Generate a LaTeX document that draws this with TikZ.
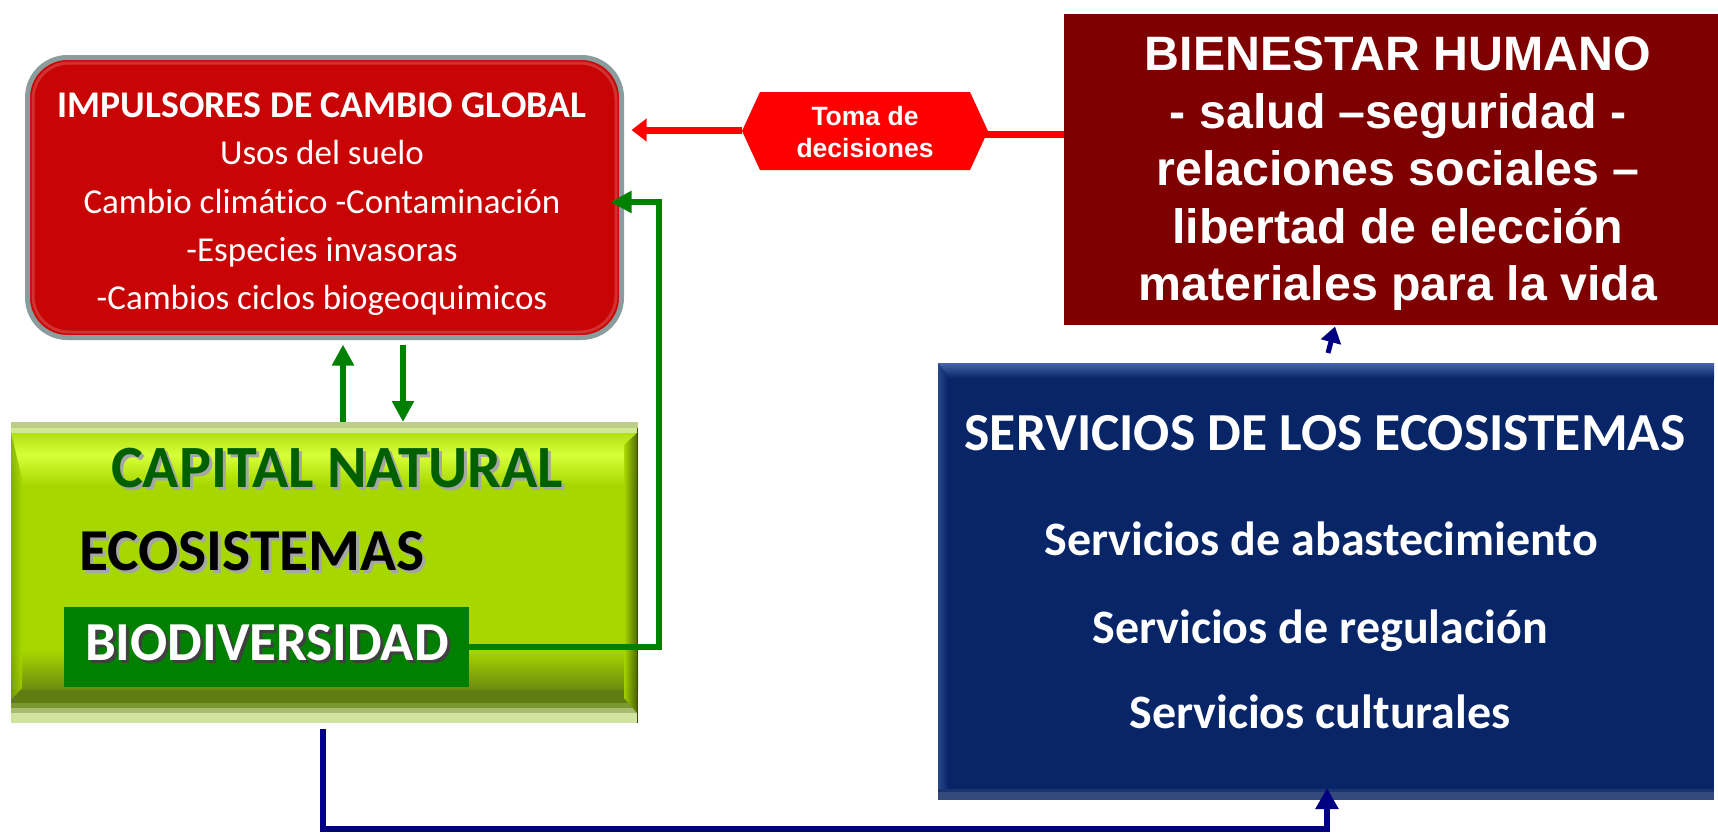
\documentclass[tikz,border=0pt]{standalone}
\usepackage{fontspec}
\setmainfont{Carlito}[Ligatures={NoCommon}]
\newfontfamily\arialf{Liberation Sans}
\usetikzlibrary{arrows.meta,calc}
\definecolor{impred}{HTML}{C80404}
\definecolor{imgray}{HTML}{8A9C9C}
\definecolor{bienred}{HTML}{7F0000}
\definecolor{navybox}{HTML}{082568}
\definecolor{arrnavy}{HTML}{000080}
\definecolor{arrgreen}{HTML}{008000}
\definecolor{lime}{HTML}{A6D800}
\definecolor{limehi}{HTML}{D8FF3A}
\definecolor{limetop}{HTML}{B0E010}
\definecolor{limedk}{HTML}{6A8A10}
\definecolor{limeleft}{HTML}{7AA400}
\definecolor{limeright}{HTML}{466000}
\definecolor{gA}{HTML}{BCCE88}
\definecolor{gB}{HTML}{D0E890}
\definecolor{gC}{HTML}{5E7C10}
\definecolor{gD}{HTML}{7C9830}
\definecolor{gE}{HTML}{A8BC70}
\definecolor{gF}{HTML}{D0E4A0}
\definecolor{gG}{HTML}{3A4A10}
\definecolor{capgreen}{HTML}{006000}
\definecolor{biogreen}{HTML}{007F00}
\definecolor{decred}{HTML}{FF0000}
\definecolor{arrred}{HTML}{FF0000}
\definecolor{bluehi}{HTML}{4664AA}
\definecolor{blueleft}{HTML}{28468C}
\definecolor{bA}{HTML}{1A3470}
\definecolor{bB}{HTML}{344A7C}
\newcommand\myfs[1]{\fontsize{#1}{#1}\selectfont}
\begin{document}
\begin{tikzpicture}[x=1pt,y=-1pt,
  txt/.style={inner sep=0pt,outer sep=0pt,text=white,anchor=base},
  garr/.style={draw=arrgreen,line width=6pt,-{Triangle[length=21pt,width=21pt]}},
  rline/.style={draw=arrred,line width=7pt},
  rarr/.style={rline,-{Triangle[length=15pt,width=22pt]}},
  narr/.style={draw=arrnavy,line width=6pt,-{Triangle[length=21pt,width=22pt]}},
  boxn/.style={inner sep=0pt,outer sep=0pt}]
\useasboundingbox (0,0) rectangle (1718,833);

% ---------- IMPULSORES box
\node[boxn,draw=imgray,line width=5pt,fill=impred,rounded corners=40pt,
      minimum width=594pt,minimum height=280pt] (imp) at (324.5,197.5) {};
\draw[white,opacity=0.18,line width=3pt,rounded corners=36pt] (33,63) rectangle (616,332);
\node[txt,font=\bfseries\myfs{37.7}] (imp1) at (322,117) {IMPULSORES DE CAMBIO GLOBAL};
\node[txt,font=\myfs{35}] (imp2) at (322,164) {Usos del suelo};
\node[txt,font=\myfs{35}] (imp3) at (322,213) {Cambio climático -Contaminación};
\node[txt,font=\myfs{35}] (imp4) at (322,261) {-Especies invasoras};
\node[txt,font=\myfs{35}] (imp5) at (322,309) {-Cambios ciclos biogeoquimicos};

% ---------- BIENESTAR box
\node[boxn,fill=bienred,minimum width=654pt,minimum height=311pt] (bien) at (1391,169) {};
\node[txt,font=\arialf\bfseries\myfs{48.3}] (b1) at (1398,70) {BIENESTAR HUMANO};
\node[txt,font=\arialf\bfseries\myfs{48.3}] (b2) at (1398,128) {- salud –seguridad -};
\node[txt,font=\arialf\bfseries\myfs{48.3}] (b3) at (1398,185) {relaciones sociales –};
\node[txt,font=\arialf\bfseries\myfs{48.3}] (b4) at (1398,243) {libertad de elección};
\node[txt,font=\arialf\bfseries\myfs{48.3}] (b5) at (1398,300) {materiales para la vida};

% ---------- decision hexagon
\node[boxn,minimum width=246pt,minimum height=78pt] (dec) at (865,131) {};
\draw[rline] (bien.west |- 0,134) -- ($(dec.east |- 0,134)+(-10,0)$);
\draw[rarr] (dec.west |- 0,130) -- ($(imp.east |- 0,130)+(10,0)$);
\fill[decred] (dec.west) -- ($(dec.north west)+(18,0)$) -- ($(dec.north east)+(-18,0)$)
  -- (dec.east) -- ($(dec.south east)+(-18,0)$) -- ($(dec.south west)+(18,0)$) -- cycle;
\node[txt,font=\arialf\bfseries\myfs{26.5}] (d1) at (865,125) {Toma de};
\node[txt,font=\arialf\bfseries\myfs{26.5}] (d2) at (865,157) {decisiones};

% ---------- CAPITAL NATURAL box
\node[boxn,fill=lime,minimum width=627pt,minimum height=301pt] (green) at (324.5,572.5) {};
\fill[gA] (11,422) rectangle (638,428);
\fill[gB] (11,428) rectangle (638,433);
\shade[top color=limetop,bottom color=limehi] (11,433) rectangle (638,455);
\shade[top color=limehi,bottom color=lime] (11,455) rectangle (638,485);
\shade[top color=lime,bottom color=limedk] (11,650) rectangle (638,690);
\fill[gC] (11,690) rectangle (638,703);
\fill[gD] (11,703) rectangle (638,708);
\fill[gE] (11,708) rectangle (638,713);
\fill[gF] (11,713) rectangle (638,723);
\shade[left color=limeleft,right color=lime,opacity=0.8] (11,433) -- (22,478) -- (22,688) -- (11,700) -- cycle;
\shade[left color=lime,right color=limeright,opacity=0.9] (624,445) -- (637,433) -- (637,713) -- (624,698) -- cycle;
\fill[gG] (637,428) rectangle (638,723);

\node[boxn,fill=biogreen,minimum width=405pt,minimum height=80pt] (bio) at (266.5,647) {};

\node[txt,text=gray!70,font=\bfseries\myfs{60}] (capS) at (340,490) {CAPITAL NATURAL};
\node[txt,text=capgreen,font=\bfseries\myfs{60}] (cap) at (337,487) {CAPITAL NATURAL};
\node[txt,anchor=base west,text=gray!70,font=\bfseries\myfs{59.5}] (ecoS) at (82,573) {ECOSISTEMAS};
\node[txt,anchor=base west,text=black,font=\bfseries\myfs{59.5}] (eco) at (79,570) {ECOSISTEMAS};
\node[txt,anchor=base west,text=black!75,font=\bfseries\myfs{55}] (biotS) at (88,663) {BIODIVERSIDAD};
\node[txt,anchor=base west,text=white,font=\bfseries\myfs{55}] (biot) at (85,660) {BIODIVERSIDAD};

% ---------- SERVICIOS box
\node[boxn,fill=navybox,minimum width=776pt,minimum height=437pt] (blue) at (1326,581.5) {};
\shade[top color=bluehi,bottom color=navybox] (938,363) rectangle (1714,378);
\shade[left color=blueleft,right color=navybox] (938,363) -- (948,376) -- (948,790) -- (938,800) -- cycle;
\fill[bA] (938,789) rectangle (1714,792);
\fill[bB] (938,792) rectangle (1714,800);
\node[txt,font=\bfseries\myfs{53.5}] (s0) at (1325,450) {SERVICIOS DE LOS ECOSISTEMAS};
\node[txt,font=\bfseries\myfs{48}] (s1) at (1321,555) {Servicios de abastecimiento};
\node[txt,font=\bfseries\myfs{48}] (s2) at (1320,643) {Servicios de regulación};
\node[txt,font=\bfseries\myfs{48}] (s3) at (1320,728) {Servicios culturales};

% ---------- connectors
\coordinate (ua) at (343,0);
\coordinate (da) at (403,0);
\draw[garr,shorten >=7pt] (green.north -| ua) -- (imp.south -| ua);
\draw[garr,shorten <=7pt] (imp.south -| da) -- (green.north -| da);
\draw[garr] (bio.east) -- (659,647) -- (659,202) -- ($(imp.east |- 0,202)+(-11,0)$);

\coordinate (nx) at (323,0);
\coordinate (bx) at (1327,0);
\draw[narr,line cap=butt] ($(green.south -| nx)+(0,6)$) -- (nx |- 0,829) -- (bx |- 0,829) -- ($(blue.south -| bx)+(0,-12)$);
\draw[draw=arrnavy,line width=5pt,-{Triangle[length=16pt,width=20pt]}] ($(blue.north)+(2,-10)$) -- ($(bien.south)+(-56,2)$);
\end{tikzpicture}
\end{document}
